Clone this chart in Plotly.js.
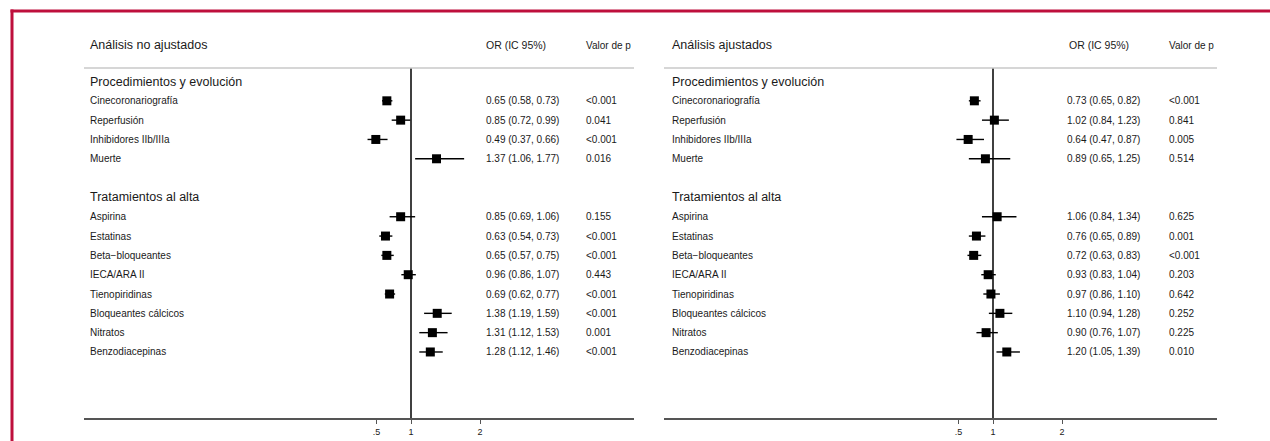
<!DOCTYPE html>
<html>
<head>
<meta charset="utf-8">
<script src="https://cdn.plot.ly/plotly-3.0.1.min.js"></script>
<style>html,body{margin:0;padding:0;background:#fff;}#chart{width:1270px;height:441px;}</style>
</head>
<body>
<div id="chart"></div>
<script>
// ---------- DATA ----------
const sectionTitles = ['Procedimientos y evolución', 'Tratamientos al alta'];
const procLabels = ['Cinecoronariografía', 'Reperfusión', 'Inhibidores IIb/IIIa', 'Muerte'];
const tratLabels = ['Aspirina', 'Estatinas', 'Beta\u2212bloqueantes', 'IECA/ARA II', 'Tienopiridinas', 'Bloqueantes cálcicos', 'Nitratos', 'Benzodiacepinas'];

const unadjOR = [0.65, 0.85, 0.49, 1.37, 0.85, 0.63, 0.65, 0.96, 0.69, 1.38, 1.31, 1.28];
const unadjLo = [0.58, 0.72, 0.37, 1.06, 0.69, 0.54, 0.57, 0.86, 0.62, 1.19, 1.12, 1.12];
const unadjHi = [0.73, 0.99, 0.66, 1.77, 1.06, 0.73, 0.75, 1.07, 0.77, 1.59, 1.53, 1.46];
const unadjP  = ['<0.001', '0.041', '<0.001', '0.016', '0.155', '<0.001', '<0.001', '0.443', '<0.001', '<0.001', '0.001', '<0.001'];

const adjOR = [0.73, 1.02, 0.64, 0.89, 1.06, 0.76, 0.72, 0.93, 0.97, 1.10, 0.90, 1.20];
const adjLo = [0.65, 0.84, 0.47, 0.65, 0.84, 0.65, 0.63, 0.83, 0.86, 0.94, 0.76, 1.05];
const adjHi = [0.82, 1.23, 0.87, 1.25, 1.34, 0.89, 0.83, 1.04, 1.10, 1.28, 1.07, 1.39];
const adjP  = ['<0.001', '0.841', '0.005', '0.514', '0.625', '0.001', '<0.001', '0.203', '0.642', '0.252', '0.225', '0.010'];

const panelTitles = ['Análisis no ajustados', 'Análisis ajustados'];
const colHeaders = ['OR (IC 95%)', 'Valor de p'];
const tickVals = [0.5, 1, 2];
const tickText = ['.5', '1', '2'];

// ---------- LAYOUT GEOMETRY ----------
const W = 1270, H = 441;
const plotTop = 68, plotBot = 418;
const rowY0 = 81.5, rowStep = 19.32;     // pixel y of row k
const pxPerUnit = 69;
const panels = [
  {x0: 84, x1: 634, one: 411, label: 88, orx: 484, orh: 484, px: 584},
  {x0: 664, x1: 1217, one: 993, label: 670, orx: 1065, orh: 1067, px: 1167}
];
const labels = procLabels.concat(tratLabels);
const rowK = procLabels.map((_, i) => i + 1).concat(tratLabels.map((_, i) => i + procLabels.length + 3));
const sectionK = [0, procLabels.length + 2];

const kMin = (plotTop - rowY0) / rowStep;
const kMax = (plotBot - rowY0) / rowStep;
const fx = px => px / W;
const fy = py => (plotBot - py) / (plotBot - plotTop);
const rowPx = k => rowY0 + rowStep * k;

const FONT = 'Liberation Sans, Arial, Helvetica, sans-serif';
const TXT = '#1a1a1a';

const sets = [
  {or: unadjOR, lo: unadjLo, hi: unadjHi, p: unadjP},
  {or: adjOR, lo: adjLo, hi: adjHi, p: adjP}
];

const traces = [];
const annotations = [];
const shapes = [];

sets.forEach((s, pi) => {
  const P = panels[pi];
  const xa = pi === 0 ? 'x' : 'x2';
  traces.push({
    type: 'scatter', mode: 'markers', xaxis: xa, yaxis: 'y',
    x: s.or, y: rowK,
    marker: {symbol: 'square', size: 9, color: '#000'},
    error_x: {type: 'data', symmetric: false,
      array: s.hi.map((h, i) => h - s.or[i]),
      arrayminus: s.lo.map((l, i) => s.or[i] - l),
      color: '#000', thickness: 1.4, width: 0},
    hoverinfo: 'skip', showlegend: false, cliponaxis: false
  });
  const ann = (text, px, py, size) => annotations.push({
    text: text, xref: 'paper', yref: 'paper', x: fx(px), y: fy(py),
    xanchor: 'left', yanchor: 'middle', showarrow: false,
    font: {family: FONT, size: size, color: TXT}
  });
  ann(panelTitles[pi], P.label, 45, 12.5);
  ann(colHeaders[0], P.orh, 45, 10.5);
  ann(colHeaders[1], P.px, 45, 10);
  sectionTitles.forEach((t, si) => ann(t, P.label, rowPx(sectionK[si]), 12.5));
  labels.forEach((lab, i) => {
    const py = rowPx(rowK[i]);
    ann(lab, P.label, py, 10);
    ann(s.or[i].toFixed(2) + ' (' + s.lo[i].toFixed(2) + ', ' + s.hi[i].toFixed(2) + ')', P.orx, py, 10);
    ann(s.p[i], P.px, py, 10);
  });
  // gray header rule
  shapes.push({type: 'line', xref: 'paper', yref: 'paper', x0: fx(P.x0), x1: fx(P.x1), y0: 1, y1: 1,
    line: {color: '#c8c8c8', width: 1.5}});
  // null line at OR = 1
  shapes.push({type: 'line', xref: xa, yref: 'paper', x0: 1, x1: 1, y0: 0, y1: 1,
    line: {color: '#000', width: 1.5}, layer: 'below'});
});

// red frame (top and left)
shapes.push({type: 'line', xref: 'paper', yref: 'paper', x0: fx(10.5), x1: 1, y0: fy(11), y1: fy(11),
  line: {color: '#be0f3c', width: 3}});
shapes.push({type: 'line', xref: 'paper', yref: 'paper', x0: fx(12), x1: fx(12), y0: fy(9.5), y1: fy(441),
  line: {color: '#be0f3c', width: 3}});

const axisCommon = (P) => ({
  domain: [fx(P.x0), fx(P.x1)],
  range: [1 - (P.one - P.x0) / pxPerUnit, 1 + (P.x1 - P.one) / pxPerUnit],
  showgrid: false, zeroline: false,
  showline: true, linecolor: '#555', linewidth: 2,
  ticks: 'outside', ticklen: 4, tickwidth: 1, tickcolor: '#555',
  tickvals: tickVals, ticktext: tickText,
  tickfont: {family: FONT, size: 9, color: TXT},
  fixedrange: true
});

const layout = {
  width: W, height: H,
  margin: {l: 0, r: 0, t: plotTop, b: H - plotBot, pad: 0},
  paper_bgcolor: '#fff', plot_bgcolor: '#fff',
  showlegend: false,
  xaxis: Object.assign(axisCommon(panels[0]), {anchor: 'y'}),
  xaxis2: Object.assign(axisCommon(panels[1]), {anchor: 'y'}),
  yaxis: {range: [kMax, kMin], visible: false, showgrid: false, zeroline: false, fixedrange: true},
  annotations: annotations,
  shapes: shapes
};

Plotly.newPlot('chart', traces, layout, {displayModeBar: false, staticPlot: true});
</script>
</body>
</html>
